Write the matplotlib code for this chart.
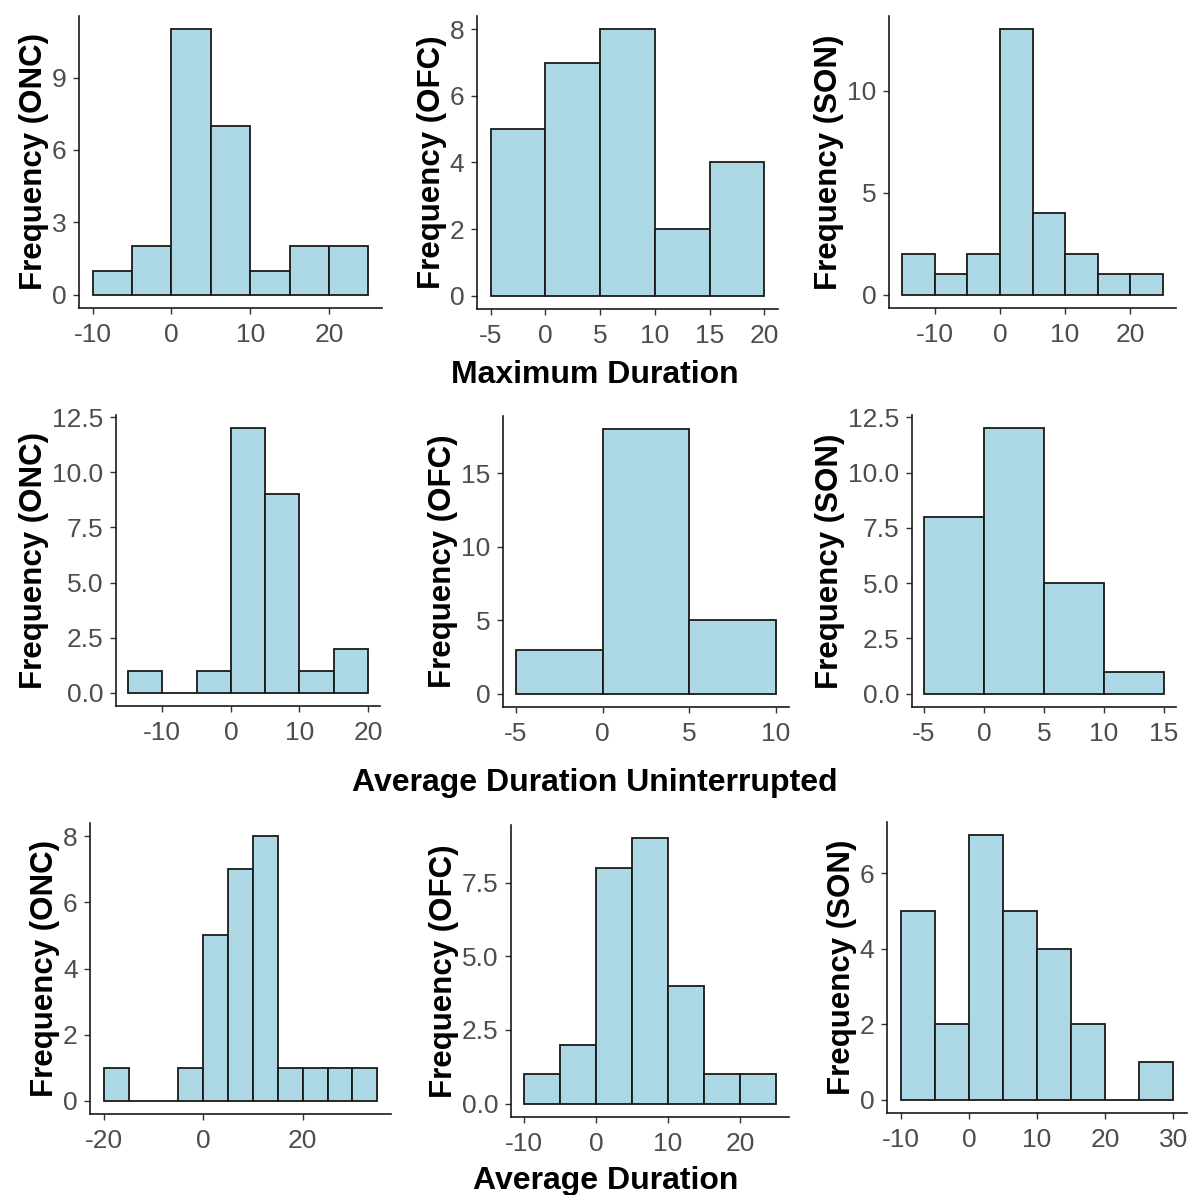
import matplotlib
matplotlib.use("Agg")
import matplotlib.pyplot as plt
import numpy as np

plt.rcParams['font.family'] = ['Liberation Sans', 'DejaVu Sans']
plt.rcParams['axes.unicode_minus'] = False

# histogram counts, all bins are 5 wide; *_start is the left edge of the first bin
max_onc_start, max_onc = -10, [1, 2, 11, 7, 1, 2, 2]
max_ofc_start, max_ofc = -5, [5, 7, 8, 2, 4]
max_son_start, max_son = -15, [2, 1, 2, 13, 4, 2, 1, 1]

unint_onc_start, unint_onc = -15, [1, 0, 1, 12, 9, 1, 2]
unint_ofc_start, unint_ofc = -5, [3, 18, 5]
unint_son_start, unint_son = -5, [8, 12, 5, 1]

avg_onc_start, avg_onc = -20, [1, 0, 0, 1, 5, 7, 8, 1, 1, 1, 1]
avg_ofc_start, avg_ofc = -10, [1, 2, 8, 9, 4, 1, 1]
avg_son_start, avg_son = -10, [5, 2, 7, 5, 4, 2, 0, 1]

bin_width = 5
groups = ['ONC', 'OFC', 'SON']
section_titles = ['Maximum Duration', 'Average Duration Uninterrupted', 'Average Duration']

xticks = [
    [[-10, 0, 10, 20], [-5, 0, 5, 10, 15, 20], [-10, 0, 10, 20]],
    [[-10, 0, 10, 20], [-5, 0, 5, 10], [-5, 0, 5, 10, 15]],
    [[-20, 0, 20], [-10, 0, 10, 20], [-10, 0, 10, 20, 30]],
]
yticks = [
    [[0, 3, 6, 9], [0, 2, 4, 6, 8], [0, 5, 10]],
    [[0, 2.5, 5, 7.5, 10, 12.5], [0, 5, 10, 15], [0, 2.5, 5, 7.5, 10, 12.5]],
    [[0, 2, 4, 6, 8], [0, 2.5, 5, 7.5], [0, 2, 4, 6]],
]
data = [
    [(max_onc_start, max_onc), (max_ofc_start, max_ofc), (max_son_start, max_son)],
    [(unint_onc_start, unint_onc), (unint_ofc_start, unint_ofc), (unint_son_start, unint_son)],
    [(avg_onc_start, avg_onc), (avg_ofc_start, avg_ofc), (avg_son_start, avg_son)],
]

W, H = 1190, 1195
fig = plt.figure(figsize=(W / 100, H / 100), dpi=100)

# axes boxes in pixels: left, right, top, bottom
boxes = [
    [(79, 382, 16, 308), (477, 778, 16, 309), (889, 1176, 16, 308)],
    [(116, 380, 415, 706), (503, 789, 416, 707), (912, 1176, 415, 707)],
    [(90, 391, 823, 1114), (511, 789, 825, 1117), (887, 1187, 822, 1113)],
]

for r in range(3):
    for c in range(3):
        l, rt, t, b = boxes[r][c]
        ax = fig.add_axes([l / W, 1 - b / H, (rt - l) / W, (b - t) / H])
        start, counts = data[r][c]
        counts = np.array(counts)
        edges = start + bin_width * np.arange(len(counts) + 1)
        ax.bar(edges[:-1], counts, width=bin_width, align='edge',
               color='#ADD8E6', edgecolor='#1a1a1a', linewidth=1.3)
        lo, hi = edges[0], edges[-1]
        pad = 0.05 * (hi - lo)
        ax.set_xlim(lo - pad, hi + pad)
        ax.set_ylim(-0.05 * counts.max(), 1.05 * counts.max())
        ax.set_xticks(xticks[r][c])
        yt = yticks[r][c]
        ax.set_yticks(yt)
        if any(v != int(v) for v in yt):
            ax.set_yticklabels(['%.1f' % v for v in yt])
        else:
            ax.set_yticklabels([str(int(v)) for v in yt])
        for s in ['top', 'right']:
            ax.spines[s].set_visible(False)
        for s in ['left', 'bottom']:
            ax.spines[s].set_color('#1a1a1a')
            ax.spines[s].set_linewidth(1.2)
        ax.tick_params(length=4, width=1, color='#333333', labelcolor='#4D4D4D',
                       labelsize=19)
        ax.tick_params(axis='x', pad=7)
        ax.tick_params(axis='y', pad=5)
        ax.set_ylabel('Frequency (%s)' % groups[c], fontsize=22.5, fontweight='bold',
                      labelpad=2)

title_y = [383, 791, 1189]
title_x = [595, 595, 606]
for i, txt in enumerate(section_titles):
    fig.text(title_x[i] / W, 1 - title_y[i] / H, txt, ha='center', va='baseline',
             fontsize=23, fontweight='bold')

fig.savefig('out.png', dpi=100)
